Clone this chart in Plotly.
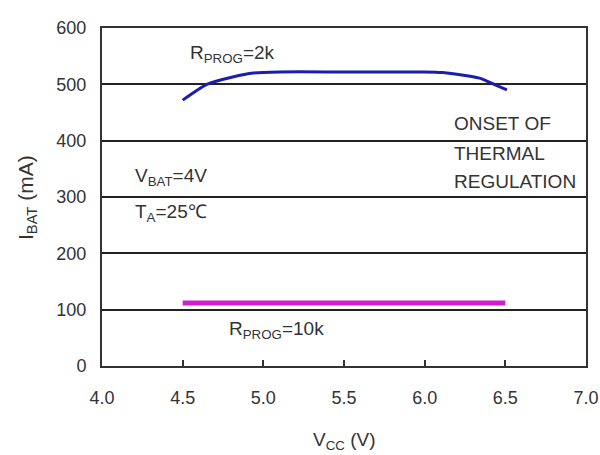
import plotly.graph_objects as go

# Data
vcc_2k = [4.5, 4.65, 4.81, 4.94, 5.1, 5.5, 6.0, 6.11, 6.2, 6.34, 6.43, 6.51]
ibat_2k = [472, 500, 513, 520, 522, 522, 522, 521, 518, 511, 500, 490]
vcc_10k = [4.5, 6.5]
ibat_10k = [112, 112]

x_ticks = [4.0, 4.5, 5.0, 5.5, 6.0, 6.5, 7.0]
x_labels = ["4.0", "4.5", "5.0", "5.5", "6.0", "6.5", "7.0"]
y_ticks = [0, 100, 200, 300, 400, 500, 600]

font = "Liberation Sans, Arial, sans-serif"
txt = "#333333"

fig = go.Figure()
fig.add_trace(go.Scatter(x=vcc_2k, y=ibat_2k, mode="lines",
                         line=dict(color="#1c1cb0", width=3, shape="spline", smoothing=0.6),
                         showlegend=False))
fig.add_trace(go.Scatter(x=vcc_10k, y=ibat_10k, mode="lines", line=dict(color="#d21ed2", width=5),
                         showlegend=False))

fig.update_layout(
    width=600, height=455,
    margin=dict(l=102, r=14, t=28, b=89),
    paper_bgcolor="white", plot_bgcolor="white",
    font=dict(family=font, size=17, color=txt),
    xaxis=dict(range=[4.0, 7.0], tickvals=x_ticks, ticktext=x_labels, automargin=False,
               ticks="inside", ticklen=6, tickwidth=1.5, tickcolor="#333", ticklabelstandoff=14,
               showgrid=False, zeroline=False, showline=True, linecolor="#333", linewidth=2,
               mirror=True, tickfont=dict(family=font, size=18, color=txt)),
    yaxis=dict(range=[0, 600], tickvals=y_ticks, ticks="", showgrid=True, gridcolor="#222",
               gridwidth=1.6, zeroline=False, showline=True, linecolor="#333", linewidth=2,
               ticklabelstandoff=10,
               mirror=True, automargin=False, tickfont=dict(family=font, size=18, color=txt)),
)

ann = [
    dict(x=4.533, y=553, text="R<sub>PROG</sub>=2k"),
    dict(x=6.17, y=431, text="ONSET OF"),
    dict(x=6.17, y=378, text="THERMAL"),
    dict(x=6.17, y=327, text="REGULATION"),
    dict(x=4.19, y=335, text="V<sub>BAT</sub>=4V"),
    dict(x=4.19, y=271, text="T<sub>A</sub>=25℃"),
    dict(x=4.775, y=64, text="R<sub>PROG</sub>=10k"),
]
for a in ann:
    fig.add_annotation(**a, xanchor="left", showarrow=False, font=dict(family=font, size=19, color=txt))

# axis titles
fig.add_annotation(x=0.502, y=-0.222, xref="paper", yref="paper", text="V<sub>CC</sub> (V)",
                   xanchor="center", yanchor="middle",
                   showarrow=False, font=dict(family=font, size=19, color=txt))
fig.add_annotation(x=-0.155, y=0.5, xref="paper", yref="paper", text="I<sub>BAT</sub> (mA)",
                   xanchor="center", yanchor="middle",
                   textangle=-90, showarrow=False, font=dict(family=font, size=21, color=txt))

fig.write_html("out.html", config={"displayModeBar": False},
               post_script="document.body.style.margin='0';")
